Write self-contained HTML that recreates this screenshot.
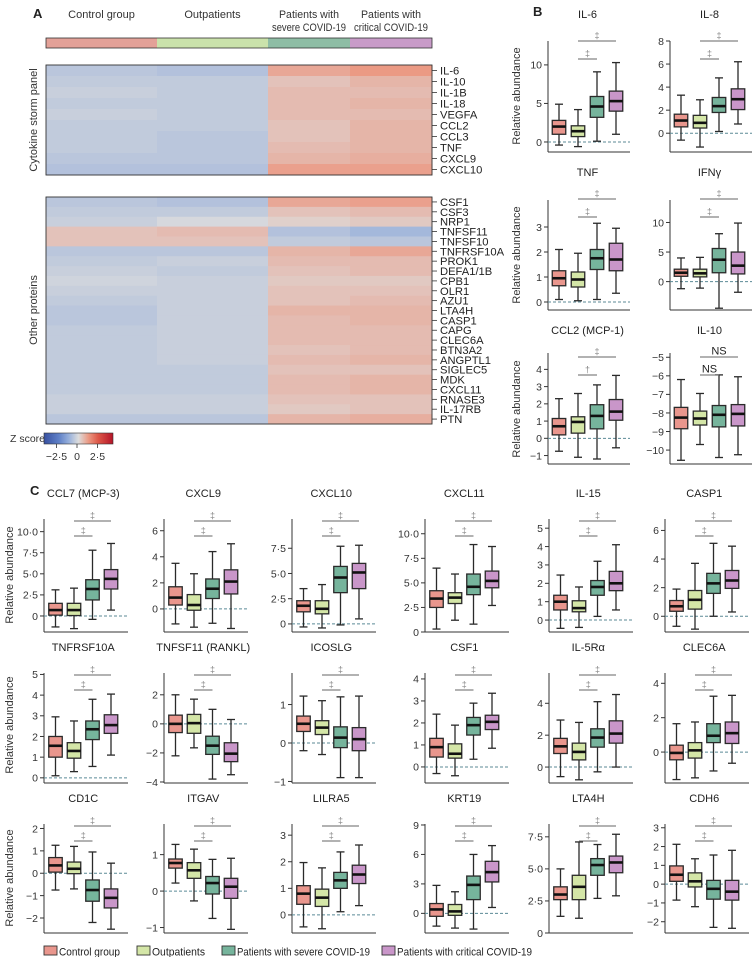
<!DOCTYPE html>
<html><head><meta charset="utf-8">
<style>
body{margin:0;background:#fff;}
svg{display:block;font-family:"Liberation Sans",sans-serif;}
</style></head>
<body>
<svg id="fig" width="756" height="957" viewBox="0 0 756 957" xmlns="http://www.w3.org/2000/svg"></svg>
<script>
// ---------- DATA ----------
const groupNames = ['Control group','Outpatients','Patients with severe COVID-19','Patients with critical COVID-19'];
const cytokineRows = ['IL-6','IL-10','IL-1B','IL-18','VEGFA','CCL2','CCL3','TNF','CXCL9','CXCL10'];
const cytokineZ = [[-0.5,-0.6,0.8,1.0],[-0.4,-0.4,0.4,0.6],[-0.3,-0.4,0.5,0.5],[-0.4,-0.4,0.5,0.6],[-0.3,-0.4,0.5,0.5],[-0.4,-0.4,0.4,0.6],[-0.4,-0.5,0.4,0.6],[-0.4,-0.5,0.5,0.6],[-0.5,-0.5,0.6,0.7],[-0.6,-0.6,0.9,0.9]];
const otherRows = ['CSF1','CSF3','NRP1','TNFSF11','TNFSF10','TNFRSF10A','PROK1','DEFA1/1B','CPB1','OLR1','AZU1','LTA4H','CASP1','CAPG','CLEC6A','BTN3A2','ANGPTL1','SIGLEC5','MDK','CXCL11','RNASE3','IL-17RB','PTN'];
const otherZ = [[-0.5,-0.6,0.8,0.9],[-0.4,-0.4,0.4,0.5],[-0.3,-0.1,0.2,0.3],[0.4,0.5,-0.6,-0.8],[0.4,0.4,-0.4,-0.5],[-0.5,-0.5,0.6,0.8],[-0.4,-0.3,0.5,0.5],[-0.3,-0.4,0.4,0.5],[-0.2,-0.3,0.3,0.3],[-0.3,-0.3,0.4,0.4],[-0.4,-0.3,0.4,0.5],[-0.5,-0.3,0.6,0.6],[-0.5,-0.3,0.5,0.6],[-0.4,-0.3,0.5,0.5],[-0.4,-0.3,0.5,0.5],[-0.4,-0.3,0.4,0.5],[-0.4,-0.3,0.5,0.6],[-0.4,-0.4,0.4,0.4],[-0.4,-0.4,0.5,0.6],[-0.4,-0.4,0.5,0.6],[-0.3,-0.3,0.4,0.4],[-0.3,-0.3,0.3,0.4],[-0.5,-0.5,0.6,0.7]];

// box stats: [min, q1, median, q3, max] per group
const stIL6=[[-0.4,1.0,2.0,2.8,4.9],[-0.6,0.7,1.4,2.1,4.2],[0.1,3.2,4.6,5.9,9.1],[1.0,4.0,5.3,6.6,10.3]];
const stIL8=[[-0.6,0.55,1.1,1.65,3.3],[-1.2,0.45,0.9,1.55,2.9],[0.15,1.8,2.35,3.1,4.8],[0.8,2.05,2.95,3.85,6.2]];
const stTNF=[[0.1,0.65,0.95,1.25,2.1],[0.05,0.6,0.9,1.2,1.95],[0.1,1.3,1.75,2.1,3.15],[0.35,1.25,1.7,2.35,2.95]];
const stIFNG=[[-1.2,0.9,1.5,2.1,4.0],[-1.1,0.8,1.4,2.1,4.1],[-4.5,1.5,3.7,5.6,8.1],[-1.8,1.3,2.7,5.0,9.9]];
const stCCL2=[[-0.75,0.2,0.7,1.15,2.3],[-1.1,0.3,0.95,1.25,2.6],[-1.2,0.55,1.3,1.95,3.1],[-0.55,1.05,1.55,2.25,3.65]];
const stIL10=[[-10.55,-8.85,-8.25,-7.7,-6.2],[-9.7,-8.65,-8.3,-7.9,-6.95],[-10.4,-8.75,-8.1,-7.6,-5.95],[-10.25,-8.7,-8.05,-7.55,-6.05]];
const stCCL7=[[-1.3,0.1,0.7,1.5,3.1],[-1.5,0.05,0.7,1.5,3.3],[-0.4,1.9,3.2,4.3,7.8],[0.7,3.2,4.4,5.5,8.6]];
const stCXCL9=[[-1.15,0.3,0.87,1.7,3.5],[-1.4,-0.1,0.3,1.1,2.7],[-1.1,0.8,1.55,2.3,4.4],[-1.5,1.15,2.1,3.0,5.0]];
const stCXCL10=[[-0.3,1.2,1.8,2.3,3.5],[-0.4,1.0,1.5,2.3,3.9],[-0.1,3.1,4.6,5.7,7.7],[0.5,3.5,5.1,6.0,7.8]];
const stCXCL11=[[0.3,2.5,3.4,4.2,6.5],[1.2,2.9,3.5,4.0,5.9],[0.8,3.8,4.6,5.9,8.9],[2.7,4.5,5.2,6.2,8.7]];
const stIL15=[[-0.45,0.55,1.0,1.35,2.45],[-0.4,0.45,0.65,1.05,1.8],[0.2,1.35,1.8,2.15,3.2],[0.55,1.6,2.0,2.65,4.1]];
const stCASP1=[[-0.7,0.35,0.7,1.1,1.9],[-0.9,0.5,1.15,1.8,3.7],[0.0,1.6,2.3,3.0,5.1],[0.3,1.95,2.5,3.2,4.9]];
const stTNFRSF10A=[[0.1,1.0,1.55,2.0,2.95],[0.3,0.95,1.3,1.7,2.75],[0.55,1.85,2.35,2.75,3.8],[1.1,2.15,2.55,3.05,4.05]];
const stTNFSF11=[[-2.2,-0.6,0,0.6,2.0],[-1.65,-0.65,0.05,0.65,1.7],[-3.8,-2.1,-1.5,-0.85,1.0],[-3.5,-2.6,-2.05,-1.3,0.3]];
const stICOSLG=[[-0.2,0.3,0.5,0.7,1.22],[-0.3,0.22,0.4,0.58,1.1],[-0.9,-0.12,0.14,0.42,1.2],[-0.9,-0.2,0.1,0.4,1.22]];
const stCSF1=[[-0.3,0.45,0.9,1.3,2.4],[-0.4,0.4,0.6,1.05,1.9],[0.35,1.45,1.9,2.25,2.9],[0.85,1.7,2.05,2.35,3.35]];
const stIL5RA=[[-0.6,0.85,1.3,1.8,2.95],[-0.8,0.45,0.95,1.5,2.8],[-0.3,1.25,1.85,2.4,4.1],[0,1.5,2.1,2.9,4.55]];
const stCLEC6A=[[-1.6,-0.45,-0.05,0.4,1.65],[-1.5,-0.35,0.1,0.55,1.75],[-1.1,0.55,0.95,1.65,3.25],[-0.65,0.5,1.1,1.75,3.3]];
const stCD1C=[[-0.75,0.05,0.35,0.7,1.25],[-0.7,-0.02,0.2,0.5,1.2],[-2.2,-1.25,-0.75,-0.3,0.95],[-2.5,-1.55,-1.1,-0.7,0.45]];
const stITGAV=[[0.22,0.63,0.77,0.88,1.28],[-0.27,0.35,0.57,0.78,1.15],[-0.75,-0.08,0.22,0.4,0.87],[-1.05,-0.2,0.12,0.35,0.9]];
const stLILRA5=[[-0.45,0.4,0.8,1.1,1.97],[-0.52,0.32,0.65,0.97,1.77],[0.12,1.0,1.3,1.6,2.37],[0.35,1.18,1.52,1.87,2.63]];
const stKRT19=[[-1.3,-0.3,0.4,1.0,2.85],[-1.5,-0.2,0.2,0.9,2.2],[-1.6,1.4,2.9,3.8,6.0],[0.6,3.2,4.2,5.3,6.9]];
const stLTA4H=[[1.3,2.6,3.0,3.6,5.0],[1.15,2.6,3.6,4.5,7.1],[2.7,4.5,5.3,5.8,6.9],[2.9,4.7,5.5,6.0,7.7]];
const stCDH6=[[-0.85,0.15,0.5,0.97,2.12],[-1.2,-0.15,0.15,0.6,1.35],[-2.3,-0.8,-0.25,0.2,1.55],[-2.35,-0.85,-0.4,0.2,1.8]];

// tick values and labels
const tkIL6=[0,5,10], lbIL6=['0','5','10'];
const tkIL8=[0,2,4,6,8], lbIL8=['0','2','4','6','8'];
const tkTNF=[0,1,2,3], lbTNF=['0','1','2','3'];
const tkIFNG=[0,5,10], lbIFNG=['0','5','10'];
const tkCCL2=[-1,0,1,2,3,4], lbCCL2=['−1','0','1','2','3','4'];
const tkIL10=[-10,-9,-8,-7,-6,-5], lbIL10=['−10','−9','−8','−7','−6','−5'];
const tk25=[0,2.5,5,7.5,10], lb25=['0','2·5','5·0','7·5','10·0'];
const tk25b=[0,2.5,5,7.5], lb25b=['0','2·5','5·0','7·5'];
const tk246=[0,2,4,6], lb246=['0','2','4','6'];
const tk024=[0,2,4], lb024=['0','2','4'];
const tk05=[0,1,2,3,4,5], lb05=['0','1','2','3','4','5'];
const tk04=[0,1,2,3,4], lb04=['0','1','2','3','4'];
const tkRANKL=[-4,-2,0,2], lbRANKL=['−4','−2','0','2'];
const tkm11=[-1,0,1], lbm11=['−1','0','1'];
const tkCD1C=[-2,-1,0,1,2], lbCD1C=['−2','−1','0','1','2'];
const tkLILRA5=[0,1,2,3], lbLILRA5=['0','1','2','3'];
const tkKRT19=[0,3,6,9], lbKRT19=['0','3','6','9'];
const tkCDH6=[-2,-1,0,1,2,3], lbCDH6=['−2','−1','0','1','2','3'];

// ---------- HELPERS ----------
const svg=document.getElementById('fig');
const NS='http://www.w3.org/2000/svg';
function mk(tag,attrs,parent){const e=document.createElementNS(NS,tag);for(const k in attrs)e.setAttribute(k,attrs[k]);(parent||svg).appendChild(e);return e;}
function txt(s,x,y,attrs,parent){const t=mk('text',Object.assign({x:x,y:y},attrs||{}),parent);t.textContent=s;return t;}
const boxColors=['#e9968d','#d4e6a7','#76b49c','#c996c9'];
const barColors=['#e3a198','#cae2ab','#8ebda5','#c89bc8'];

function lerp(a,b,t){return a+(b-a)*t;}
function zColor(z){
  let c0=[221,221,221],c1,c2,t;
  if(z>=0){c1=[242,120,88];c2=[180,20,40];}else{c1=[115,152,218];c2=[55,80,160];z=-z;}
  let c;
  if(z<=1.5){t=z/1.5;c=c0.map((v,i)=>lerp(v,c1[i],t));}
  else{t=Math.min(1,(z-1.5)/1.5);c=c1.map((v,i)=>lerp(v,c2[i],t));}
  return 'rgb('+c.map(Math.round).join(',')+')';
}

// ---------- PANEL A ----------
txt('A',33,18,{'font-size':13,'font-weight':'bold','fill':'#222',});
const gx=[46,157,268,350,432];
const glabels=[['Control group'],['Outpatients'],['Patients with','severe COVID-19'],['Patients with','critical COVID-19']];
for(let g=0;g<4;g++){
  const r=mk('rect',{x:gx[g],y:38,width:gx[g+1]-gx[g],height:10,fill:barColors[g]});
  
  
  const cx=(gx[g]+gx[g+1])/2;
  glabels[g].forEach((s,i)=>{
    const y=glabels[g].length===1?18:(18+i*13);
    const a={'font-size':11,'text-anchor':'middle','fill':'#333'};
    if(glabels[g].length>1){a.textLength=(i===0?60:74);a.lengthAdjust='spacingAndGlyphs';}
    const t=txt(s,cx,y,a);
    
    
  });
}
mk('rect',{x:46,y:38,width:386,height:10,fill:'none',stroke:'#333','stroke-width':0.8});

function heatmap(rows,z,top,rowH,name){
  const g=mk('g',{});
  
  
  rows.forEach((lab,r)=>{
    for(let k=0;k<4;k++){
      const c=mk('rect',{x:gx[k],y:top+r*rowH,width:gx[k+1]-gx[k]+0.5,height:rowH+0.5,fill:zColor(z[r][k])},g);
      
      
    }
    const y=top+(r+0.5)*rowH;
    mk('line',{x1:432,x2:437,y1:y,y2:y,stroke:'#333','stroke-width':0.8},g);
    const t=txt(lab,440,y+4,{'font-size':11.2,'fill':'#222'},g);
    
    
  });
  mk('rect',{x:46,y:top,width:386,height:rows.length*rowH,fill:'none',stroke:'#333','stroke-width':0.9},g);
}
heatmap(cytokineRows,cytokineZ,65,11,'cytokine-heatmap');
heatmap(otherRows,otherZ,197,9.87,'other-proteins-heatmap');
txt('Cytokine storm panel',0,0,{'font-size':11,'fill':'#333','text-anchor':'middle',transform:'translate(37,120) rotate(-90)',});
txt('Other proteins',0,0,{'font-size':11,'fill':'#333','text-anchor':'middle',transform:'translate(37,310) rotate(-90)',});
// Z score legend
const defs=mk('defs',{});
const lg=mk('linearGradient',{id:'zg',x1:0,x2:1,y1:0,y2:0},defs);
[-3.5,-2,-1,0,1,2,3.5].forEach(v=>mk('stop',{offset:(v+3.5)/7,'stop-color':zColor(v)},lg));
txt('Z score',10,442,{'font-size':10.5,'fill':'#333',});
mk('rect',{x:44,y:433,width:69,height:11,fill:'url(#zg)',stroke:'#333','stroke-width':0.6,});
[[-2.5,'−2·5'],[0,'0'],[2.5,'2·5']].forEach(([v,l])=>{
  const x=77+v*8.2;
  mk('line',{x1:x,x2:x,y1:444,y2:448,stroke:'#333','stroke-width':0.8});
  txt(l,x,460,{'font-size':10.5,'fill':'#333','text-anchor':'middle'});
});

// ---------- BOX PANELS ----------
function panel(o){
  const g=mk('g',{});
  
  
  const sx=o.sx, top=o.top, bot=o.bot, lo=o.lo, hi=o.hi;
  const y=v=>bot-(v-lo)/(hi-lo)*(bot-top);
  const step=o.step, off=o.off, len=o.len;
  const cx=i=>sx+off+i*step;
  const tt=txt(o.title,sx+off+1.5*step,o.ty,{'font-size':11,'fill':'#222','text-anchor':'middle'},g);
  
  
  mk('line',{x1:sx,x2:sx,y1:top,y2:bot,stroke:'#333','stroke-width':1},g);
  mk('line',{x1:sx,x2:sx+len,y1:bot,y2:bot,stroke:'#333','stroke-width':1},g);
  o.ticks.forEach((v,i)=>{
    const yy=y(v);
    mk('line',{x1:sx-4,x2:sx,y1:yy,y2:yy,stroke:'#333','stroke-width':1},g);
    const t=txt(o.labels[i],sx-6,yy+3.8,{'font-size':10.5,'fill':'#333','text-anchor':'end'},g);
    
    
  });
  if(o.zero!==false && lo<-0.02 && hi>0){
    mk('line',{x1:sx,x2:sx+len,y1:y(0),y2:y(0),stroke:'#5b8a96','stroke-width':1,'stroke-dasharray':'3,2'},g);
  }
  const bw=o.bw||13.5;
  o.stats.forEach((s,i)=>{
    const c=cx(i);
    const bg=mk('g',{},g);
    
    
    const st={stroke:'#2a2a2a','stroke-width':1.3};
    mk('line',Object.assign({x1:c,x2:c,y1:y(s[0]),y2:y(s[1])},st),bg);
    mk('line',Object.assign({x1:c,x2:c,y1:y(s[3]),y2:y(s[4])},st),bg);
    mk('line',Object.assign({x1:c-4,x2:c+4,y1:y(s[0]),y2:y(s[0])},st),bg);
    mk('line',Object.assign({x1:c-4,x2:c+4,y1:y(s[4]),y2:y(s[4])},st),bg);
    mk('rect',Object.assign({x:c-bw/2,y:y(s[3]),width:bw,height:y(s[1])-y(s[3]),fill:boxColors[i]},st),bg);
    mk('line',{x1:c-bw/2,x2:c+bw/2,y1:y(s[2]),y2:y(s[2]),stroke:'#111','stroke-width':2.6},bg);
  });
  const sig=o.sig||['‡','‡'];
  const b1=o.ty+o.s1, b2=o.ty+o.s2;
  mk('line',{x1:cx(1),x2:cx(3),y1:b1,y2:b1,stroke:'#666','stroke-width':1},g);
  mk('line',{x1:cx(1),x2:cx(2),y1:b2,y2:b2,stroke:'#666','stroke-width':1},g);
  const big=sig[0]==='NS';
  txt(sig[0],(cx(1)+cx(3))/2,b1-2.5,{'font-size':big?11:9,'fill':big?'#222':'#888','text-anchor':'middle'},g);
  txt(sig[1],(cx(1)+cx(2))/2,b2-2.5,{'font-size':big?11:9,'fill':big?'#222':'#888','text-anchor':'middle'},g);
}

txt('B',533,16,{'font-size':13,'font-weight':'bold','fill':'#222',});
txt('C',30,495,{'font-size':13,'font-weight':'bold','fill':'#222',});

const Bx=[548,670];
const Brow=[{ty:22,top:41,bot:152},{ty:180,top:200,bot:310},{ty:338,top:353,bot:464}];
const Bpanels=[
 ['IL-6',stIL6,tkIL6,lbIL6,-1.3,13.1],
 ['IL-8',stIL8,tkIL8,lbIL8,-1.63,8.0],
 ['TNF',stTNF,tkTNF,lbTNF,-0.32,4.08],
 ['IFNγ',stIFNG,tkIFNG,lbIFNG,-4.8,13.8],
 ['CCL2 (MCP-1)',stCCL2,tkCCL2,lbCCL2,-1.49,4.95],
 ['IL-10',stIL10,tkIL10,lbIL10,-10.75,-4.77]
];
Bpanels.forEach((p,k)=>{
  const r=Brow[Math.floor(k/2)], sx=Bx[k%2];
  let sig=['‡','‡'];
  if(p[0]==='CCL2 (MCP-1)')sig=['‡','†'];
  if(p[0]==='IL-10')sig=['NS','NS'];
  panel({id:p[0].toLowerCase().replace(/[^a-z0-9]+/g,'-'),title:p[0],stats:p[1],ticks:p[2],labels:p[3],lo:p[4],hi:p[5],sx:sx,top:r.top,bot:r.bot,ty:r.ty-4,s1:23,s2:41,step:19,off:11,len:82,sig:sig,zero:p[0]!=='IL-10'});
});
[96,255,409].forEach(cy=>txt('Relative abundance',0,0,{'font-size':11,'fill':'#333','text-anchor':'middle',transform:'translate(520,'+cy+') rotate(-90)',}));

const Cx=[44,164,292,425,549,665];
const Crow=[{ty:500,top:519,bot:632},{ty:654,top:673,bot:783},{ty:805,top:824,bot:933}];
const Cpanels=[
 ['CCL7 (MCP-3)',stCCL7,tk25,lb25,-1.9,11.5],
 ['CXCL9',stCXCL9,tk246,lb246,-1.77,6.9],
 ['CXCL10',stCXCL10,tk25b,lb25b,-0.8,10.4],
 ['CXCL11',stCXCL11,tk25,lb25,0,11.5],
 ['IL-15',stIL15,tk05,lb05,-0.65,5.5],
 ['CASP1',stCASP1,tk246,lb246,-1.1,6.8],
 ['TNFRSF10A',stTNFRSF10A,tk05,lb05,-0.25,5.07],
 ['TNFSF11 (RANKL)',stTNFSF11,tkRANKL,lbRANKL,-4.07,3.5],
 ['ICOSLG',stICOSLG,tkm11,lbm11,-1.04,1.82],
 ['CSF1',stCSF1,tk04,lb04,-0.73,4.27],
 ['IL-5Rα',stIL5RA,tk024,lb024,-1.0,5.9],
 ['CLEC6A',stCLEC6A,tk024,lb024,-1.8,4.6],
 ['CD1C',stCD1C,tkCD1C,lbCD1C,-2.67,2.2],
 ['ITGAV',stITGAV,tkm11,lbm11,-1.15,1.84],
 ['LILRA5',stLILRA5,tkLILRA5,lbLILRA5,-0.68,3.42],
 ['KRT19',stKRT19,tkKRT19,lbKRT19,-2.0,9.1],
 ['LTA4H',stLTA4H,tk25b,lb25b,0,8.5],
 ['CDH6',stCDH6,tkCDH6,lbCDH6,-2.6,3.2]
];
Cpanels.forEach((p,k)=>{
  const r=Crow[Math.floor(k/6)], sx=Cx[k%6];
  panel({id:p[0].toLowerCase().replace(/[^a-z0-9]+/g,'-'),title:p[0],stats:p[1],ticks:p[2],labels:p[3],lo:p[4],hi:p[5],sx:sx,top:r.top,bot:r.bot,ty:r.ty-3,s1:24,s2:39,step:18.5,off:11.5,len:84});
});
[575,725,878].forEach(cy=>txt('Relative abundance',0,0,{'font-size':11,'fill':'#333','text-anchor':'middle',transform:'translate(13,'+cy+') rotate(-90)',}));

// ---------- LEGEND ----------
const legX=[44,137,222,382];
const legW=[61,53,133,135];
groupNames.forEach((n,i)=>{
  const g=mk('g',{});
  
  
  mk('rect',{x:legX[i],y:946,width:13,height:9,fill:boxColors[i],stroke:'#333','stroke-width':0.9},g);
  txt(n,legX[i]+15,955.5,{'font-size':11.3,'fill':'#222',textLength:legW[i],lengthAdjust:'spacingAndGlyphs'},g);
});
</script>
</body></html>
